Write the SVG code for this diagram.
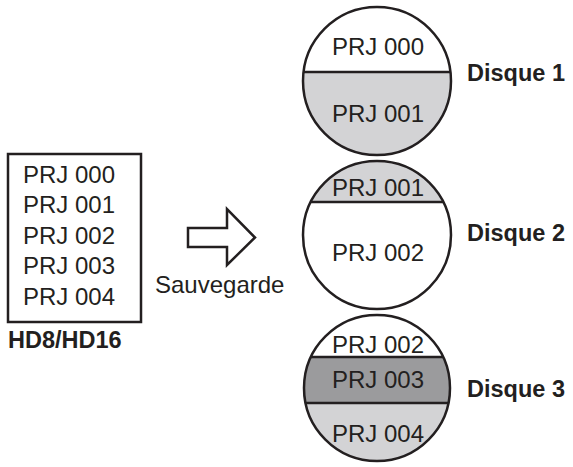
<svg xmlns="http://www.w3.org/2000/svg" width="573" height="467" viewBox="0 0 573 467">
<style>
.t{font-family:"Liberation Sans",Arial,sans-serif;font-size:24px;fill:#231f20}
.b{font-family:"Liberation Sans",Arial,sans-serif;font-size:23.5px;font-weight:bold;fill:#231f20}
.o{fill:none;stroke:#231f20;stroke-width:2.5}
.l{stroke:#231f20;stroke-width:2.5}
.g1{fill:#d3d3d5}
.g2{fill:#9b9b9d}
</style>
<defs>
<clipPath id="c1"><circle cx="377" cy="81" r="74"/></clipPath>
<clipPath id="c2"><circle cx="377" cy="235" r="74"/></clipPath>
<clipPath id="c3"><circle cx="377" cy="388" r="73"/></clipPath>
</defs>
<rect width="573" height="467" fill="#fff"/>
<g id="hd">
<rect x="8" y="154" width="133" height="168" class="o" stroke-width="2"/>
<text class="t" x="23" y="183">PRJ 000</text>
<text class="t" x="23" y="213">PRJ 001</text>
<text class="t" x="23" y="244">PRJ 002</text>
<text class="t" x="23" y="274">PRJ 003</text>
<text class="t" x="23" y="305">PRJ 004</text>
<text class="b" x="8" y="348">HD8/HD16</text>
</g>
<g id="connectors">
<path d="M188 228 H227 V209 L255 237.5 L227 265 V247 H188 Z" class="o" stroke-width="2" fill="#fff"/>
<text class="t" x="155" y="293" font-size="23">Sauvegarde</text>
</g>
<g id="disque1">
<g clip-path="url(#c1)">
<rect x="300" y="72" width="160" height="90" class="g1"/>
<line x1="300" y1="72" x2="460" y2="72" class="l"/>
</g>
<circle cx="377" cy="81" r="74" class="o"/>
<text class="t" x="378" y="55" text-anchor="middle">PRJ 000</text>
<text class="t" x="378" y="122" text-anchor="middle">PRJ 001</text>
<text class="b" x="467" y="81">Disque 1</text>
</g>
<g id="disque2">
<g clip-path="url(#c2)">
<rect x="300" y="158" width="160" height="44" class="g1"/>
<line x1="300" y1="202" x2="460" y2="202" class="l"/>
</g>
<circle cx="377" cy="235" r="74" class="o"/>
<text class="t" x="378" y="196" text-anchor="middle">PRJ 001</text>
<text class="t" x="378" y="261" text-anchor="middle">PRJ 002</text>
<text class="b" x="467" y="241">Disque 2</text>
</g>
<g id="disque3">
<g clip-path="url(#c3)">
<rect x="300" y="357" width="160" height="46" class="g2"/>
<rect x="300" y="403" width="160" height="60" class="g1"/>
<line x1="300" y1="357" x2="460" y2="357" class="l"/>
<line x1="300" y1="403" x2="460" y2="403" class="l"/>
</g>
<circle cx="377" cy="388" r="73" class="o"/>
<text class="t" x="378" y="353" text-anchor="middle">PRJ 002</text>
<text class="t" x="378" y="388" text-anchor="middle">PRJ 003</text>
<text class="t" x="378" y="442" text-anchor="middle">PRJ 004</text>
<text class="b" x="467" y="397">Disque 3</text>
</g>
</svg>
